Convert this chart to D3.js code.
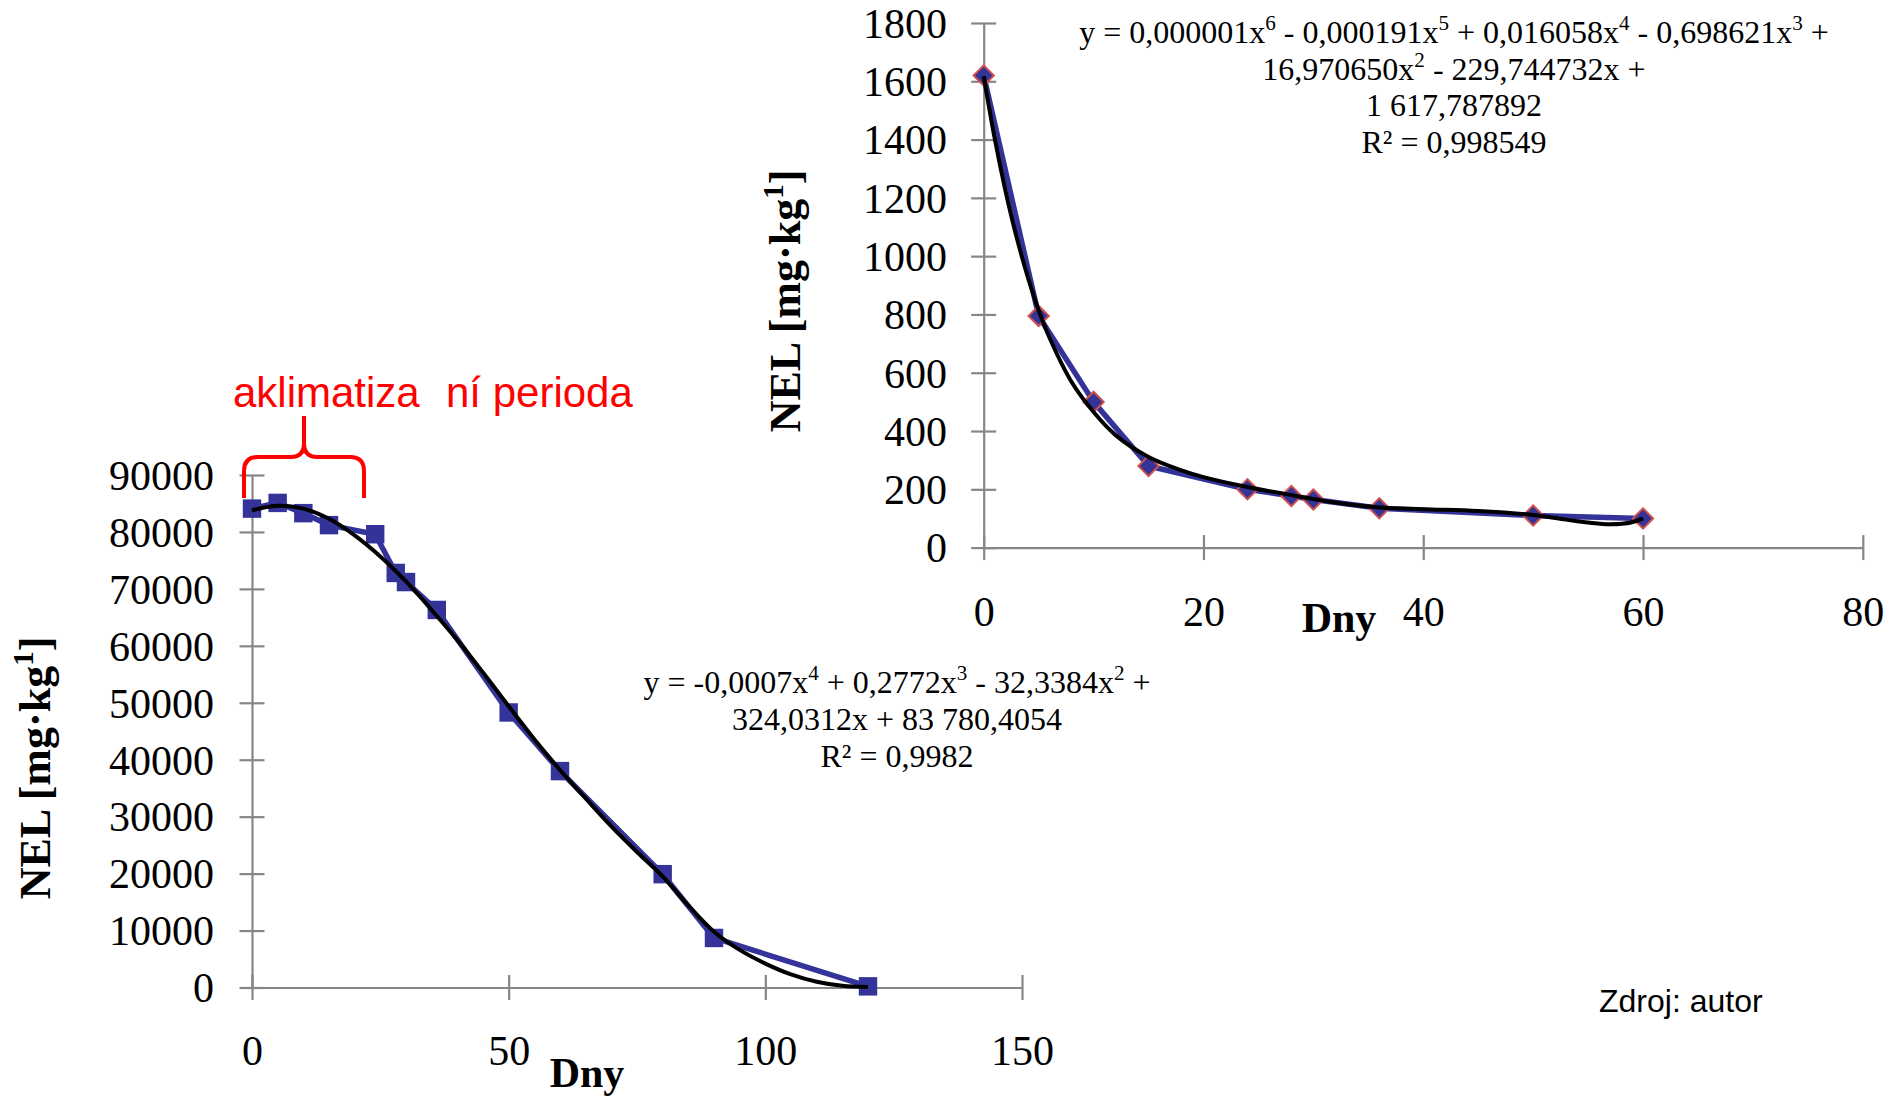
<!DOCTYPE html>
<html>
<head>
<meta charset="utf-8">
<script src="https://cdn.jsdelivr.net/npm/d3@7"></script>
<style>
  body { margin: 0; background: #fff; }
  text { font-family: "Liberation Serif", "Times New Roman", serif; fill: #000; white-space: pre; }
</style>
</head>
<body>
<div id="chart"></div>
<script>
// Left chart data (days, NEL mg/kg)
const leftDays = [0, 5, 10, 15, 24, 28, 30, 36, 50, 60, 80, 90, 120];
const leftNEL = [84100, 85100, 83300, 81200, 79600, 72800, 71200, 66300, 48300, 38000, 19900, 8700, 200];
// trend line of the left chart
const leftTrendDays = [0, 5, 10, 15, 20, 25, 30, 35, 40, 45, 50, 55, 60, 65, 70, 75, 80, 85, 90, 95, 100, 105, 110, 115, 120];
const leftTrendNEL = [83800, 84600, 84100, 82300, 79400, 75700, 71300, 66300, 61000, 55300, 49400, 43600, 38200, 33200, 28300, 23800, 19500, 14400, 9800, 6600, 4200, 2300, 1000, 300, 100];
const leftXTicks = [0, 50, 100, 150];
const leftYTicks = [0, 10000, 20000, 30000, 40000, 50000, 60000, 70000, 80000, 90000];
const leftEquation = ["y = -0,0007x^4 + 0,2772x^3 - 32,3384x^2 +", "324,0312x + 83 780,4054", "R² = 0,9982"];

// Right chart data
const rightDays = [0, 5, 10, 15, 24, 28, 30, 36, 50, 60];
const rightNEL = [1620, 795, 500, 280, 200, 177, 165, 135, 110, 100];
const rightTrendDays = [0, 1, 2, 3, 4, 5, 6, 8, 10, 12, 15, 18, 20, 24, 28, 32, 36, 40, 45, 50, 53, 55, 57, 59, 60];
const rightTrendNEL = [1618, 1404, 1221, 1064, 930, 815, 719, 568, 465, 386, 311, 265, 242, 208, 180, 155, 138, 132, 126, 112, 96, 86, 80, 87, 100];
const rightXTicks = [0, 20, 40, 60, 80];
const rightYTicks = [0, 200, 400, 600, 800, 1000, 1200, 1400, 1600, 1800];
const rightEquation = ["y = 0,000001x^6 - 0,000191x^5 + 0,016058x^4 - 0,698621x^3 +", "16,970650x^2 - 229,744732x +", "1 617,787892", "R² = 0,998549"];

const width = 1904, height = 1096;
const blue = "#333399", axisGray = "#868686";

const svg = d3.select("#chart").append("svg")
  .attr("width", width)
  .attr("height", height);

// scales
const xL = d3.scaleLinear().domain([0, 150]).range([252, 1022]);
const yL = d3.scaleLinear().domain([0, 90000]).range([987.5, 475]);
const xR = d3.scaleLinear().domain([0, 80]).range([983.7, 1862.8]);
const yR = d3.scaleLinear().domain([0, 1800]).range([547.6, 23]);

// draws both axes with ticks crossing the axis line
function drawAxes(x, y, xTicks, yTicks, yLabelX, xLabelY) {
  const gx = svg.append("g")
    .attr("transform", `translate(0,${y(0)})`)
    .call(d3.axisBottom(x).tickValues(xTicks).tickSizeOuter(0).tickFormat(d3.format("d")));
  const gy = svg.append("g")
    .attr("transform", `translate(${x(0)},0)`)
    .call(d3.axisLeft(y).tickValues(yTicks).tickSizeOuter(0).tickFormat(d3.format("d")));

  [gx, gy].forEach(g => {
    g.select(".domain").attr("stroke", axisGray).attr("stroke-width", 2.2);
    g.selectAll(".tick line").attr("stroke", axisGray).attr("stroke-width", 2.2);
    g.selectAll("text").style("font-size", "42px").attr("font-family", null);
  });
  gx.selectAll(".tick line").attr("y1", -12.5).attr("y2", 12.5);
  gy.selectAll(".tick line").attr("x1", -12.5).attr("x2", 12.5);
  gx.selectAll(".tick text").attr("y", xLabelY).attr("dy", 0);
  gy.selectAll(".tick text").attr("x", yLabelX).attr("dy", "0.34em");
}

drawAxes(xL, yL, leftXTicks, leftYTicks, -38, 77.5);
drawAxes(xR, yR, rightXTicks, rightYTicks, -36.7, 78.5);

// series + trend
function drawSeries(x, y, days, vals, tDays, tVals, marker) {
  const line = d3.line().x((d, i) => x(days[i])).y(d => y(d));
  svg.append("path")
    .datum(vals)
    .attr("d", line)
    .attr("fill", "none")
    .attr("stroke", blue)
    .attr("stroke-width", 5.5)
    .attr("stroke-linejoin", "round");

  if (marker === "square") {
    svg.selectAll(null)
      .data(vals)
      .enter()
      .append("path")
      .attr("d", d3.symbol(d3.symbolSquare, 340))
      .attr("transform", (d, i) => `translate(${x(days[i])},${y(d)})`)
      .attr("fill", blue);
  } else {
    svg.selectAll(null)
      .data(vals)
      .enter()
      .append("path")
      .attr("d", d3.symbol(d3.symbolSquare, 205))
      .attr("transform", (d, i) => `translate(${x(days[i])},${y(d)}) rotate(45)`)
      .attr("fill", blue)
      .attr("stroke", "#d0504a")
      .attr("stroke-width", 2);
  }

  const trend = d3.line()
    .x((d, i) => x(tDays[i]))
    .y(d => y(d))
    .curve(d3.curveCatmullRom);
  svg.append("path")
    .datum(tVals)
    .attr("d", trend)
    .attr("fill", "none")
    .attr("stroke", "#000")
    .attr("stroke-width", 4);
}

drawSeries(xL, yL, leftDays, leftNEL, leftTrendDays, leftTrendNEL, "square");
drawSeries(xR, yR, rightDays, rightNEL, rightTrendDays, rightTrendNEL, "diamond");

// equation text with superscripts
function eqLine(cx, y, str, size) {
  const t = svg.append("text")
    .attr("x", cx)
    .attr("y", y)
    .attr("text-anchor", "middle")
    .style("font-size", size + "px");
  const parts = str.split(/\^(\d)/);
  let off = 0;
  const up = -size * 0.4;
  parts.forEach((p, i) => {
    if (i % 2 === 0) {
      if (p === "") return;
      t.append("tspan").attr("dy", 0 - off).text(p);
      off = 0;
    } else {
      t.append("tspan").attr("dy", up - off).style("font-size", (size * 0.66) + "px").text(p);
      off = up;
    }
  });
}

leftEquation.forEach((s, i) => eqLine(897, 693 + i * 36.8, s, 32));
rightEquation.forEach((s, i) => eqLine(1454, 43 + i * 36.6, s, 32));

// axis titles
function yTitle(x, cy) {
  const t = svg.append("text")
    .attr("transform", `translate(${x},${cy}) rotate(-90)`)
    .attr("text-anchor", "middle")
    .style("font-size", "44px")
    .style("font-weight", "bold");
  t.append("tspan").text("NEL [mg·kg");
  t.append("tspan").attr("dy", -17).style("font-size", "29px").text("1");
  t.append("tspan").attr("dy", 17).text("]");
}
yTitle(50, 768);
yTitle(800, 301);

svg.append("text")
  .attr("x", 587).attr("y", 1087)
  .attr("text-anchor", "middle")
  .style("font-size", "42px").style("font-weight", "bold")
  .text("Dny");
svg.append("text")
  .attr("x", 1339).attr("y", 632)
  .attr("text-anchor", "middle")
  .style("font-size", "42px").style("font-weight", "bold")
  .text("Dny");

// red annotation (acclimatisation period)
const sans = "'Liberation Sans', Arial, sans-serif";
svg.append("text")
  .attr("x", 233).attr("y", 407)
  .style("font-family", sans).style("font-size", "42px").style("fill", "#ff0000")
  .text("aklimatiza");
svg.append("text")
  .attr("x", 446).attr("y", 407)
  .style("font-family", sans).style("font-size", "42px").style("fill", "#ff0000")
  .text("ní perioda");

svg.append("path")
  .attr("d", "M244,498 V471 Q244,457 258,457 H291 Q304,457 304,443 V416 M304,443 Q304,457 317,457 H350 Q364,457 364,471 V498")
  .attr("fill", "none")
  .attr("stroke", "#ff0000")
  .attr("stroke-width", 4);

svg.append("text")
  .attr("x", 1599).attr("y", 1012)
  .style("font-family", sans).style("font-size", "32px")
  .text("Zdroj: autor");
</script>
</body>
</html>
